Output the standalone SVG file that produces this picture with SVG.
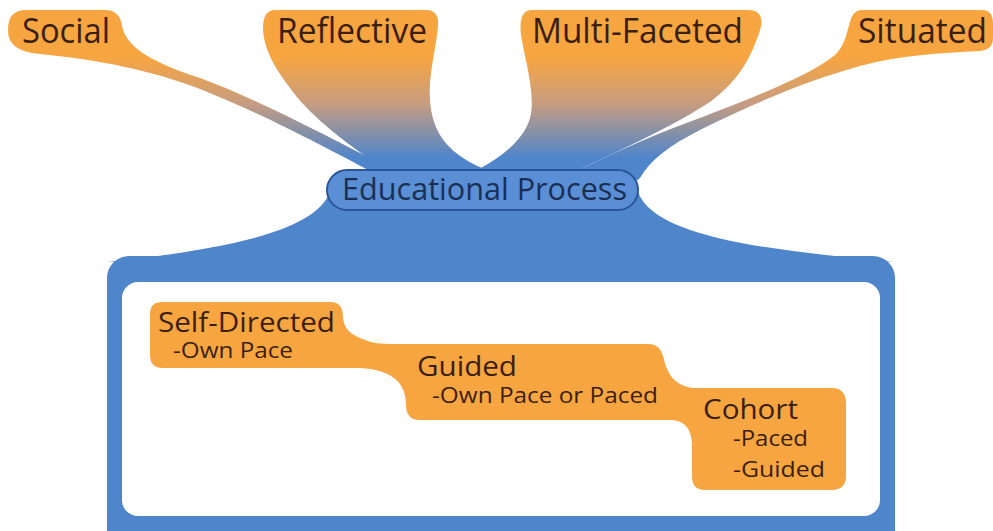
<svg xmlns="http://www.w3.org/2000/svg" width="993" height="531" viewBox="0 0 993 531">
<style>
.lbl{font-family:"Open Sans","Noto Sans","Liberation Sans",sans-serif;fill:#3a1f0c}
.top{font-size:34px}
.main{font-size:27px}
.sub{font-size:22px}
.pill{font-family:"Open Sans","Noto Sans","Liberation Sans",sans-serif;font-size:31px;fill:#1b2f55}
.blob{fill:url(#og)}
.blue{fill:#4f85ca}
.orange{fill:#f7a541}
</style>
<defs>
<linearGradient id="og" gradientUnits="userSpaceOnUse" x1="0" y1="58" x2="0" y2="158">
<stop offset="0" stop-color="#f7a541"/>
<stop offset="0.45" stop-color="#c79d80"/>
<stop offset="1" stop-color="#4f85ca"/>
</linearGradient>
</defs>
<g id="connectors">
<path class="blob" d="M 26,10 L 105,10 C 115,10 121,16 122,26 C 126,45 145,60 200,78 C 260,100 330,138 390,168 L 392,192 L 372,192 L 372,172 C 330,150 270,117 200,89 C 150,70 100,60 40,54 C 20,52 8,46 8,30 C 8,16 14,10 26,10 Z"/>
<path class="blob" d="M 275,10 L 426,10 C 435,10 439,16 438,26 C 436,50 428,75 430,100 C 432,130 445,152 482,168 L 482,195 L 375,195 L 383,168 C 340,140 305,110 290,88 C 272,65 263,45 263,28 C 263,16 267,10 275,10 Z"/>
<path class="blob" d="M 532,10 L 748,10 C 760,10 764,18 760,30 C 752,55 740,80 710,102 C 670,128 620,150 583,168 L 585,195 L 478,195 L 481,168 C 500,158 524,140 530,118 C 536,95 525,60 521,35 C 519,18 523,10 532,10 Z"/>
<path class="blob" d="M 862,10 L 982,10 C 990,10 993,15 993,24 L 993,38 C 993,47 988,50 980,51 C 940,53 900,55 860,66 C 810,80 760,100 700,130 C 670,145 650,160 640,178 L 620,195 L 585,192 L 583,168 C 620,150 660,132 700,118 C 760,95 810,75 835,55 C 845,45 846,35 850,22 C 852,14 856,10 862,10 Z"/>
<path class="blue" d="M 330,192 C 314,234 215,250 108,262 L 893,262 C 770,250 655,238 638,192 Z"/>
</g>
<g id="frame">
<rect class="blue" x="107" y="256" width="788" height="300" rx="22"/>
<rect x="122" y="282" width="758" height="234" rx="16" fill="#ffffff"/>
</g>
<g id="node-social"><text class="lbl top" x="22" y="43" textLength="88" lengthAdjust="spacingAndGlyphs">Social</text></g>
<g id="node-reflective"><text class="lbl top" x="277" y="43" textLength="150" lengthAdjust="spacingAndGlyphs">Reflective</text></g>
<g id="node-multifaceted"><text class="lbl top" x="532" y="43" textLength="211" lengthAdjust="spacingAndGlyphs">Multi-Faceted</text></g>
<g id="node-situated"><text class="lbl top" x="858" y="43" textLength="129" lengthAdjust="spacingAndGlyphs">Situated</text></g>
<g id="node-educational-process">
<rect x="327" y="170" width="311" height="40" rx="20" fill="#5a8fd6" stroke="#2a5597" stroke-width="2"/>
<text class="pill" x="342" y="200" textLength="285" lengthAdjust="spacingAndGlyphs">Educational Process</text>
</g>
<g id="node-modes">
<path class="orange" d="M 162,302 L 330,302 C 340,302 343,308 343,318 C 344,328 350,335 365,340 C 372,343 380,344 395,344 L 648,344 C 658,344 662,350 664,360 C 668,375 675,385 692,388 L 832,388 C 842,388 846,394 846,404 L 846,476 C 846,485 841,490 832,490 L 705,490 C 696,490 692,485 692,476 L 692,445 C 692,430 685,420 670,420 L 420,420 C 410,420 406,414 406,405 C 406,385 395,370 360,368 L 162,368 C 154,368 150,363 150,355 L 150,314 C 150,306 154,302 162,302 Z"/>
</g>
<g id="node-self-directed">
<text class="lbl main" x="158" y="332" textLength="177" lengthAdjust="spacingAndGlyphs">Self-Directed</text>
<text class="lbl sub" x="173" y="358" textLength="120" lengthAdjust="spacingAndGlyphs">-Own Pace</text>
</g>
<g id="node-guided">
<text class="lbl main" x="417" y="376" textLength="100" lengthAdjust="spacingAndGlyphs">Guided</text>
<text class="lbl sub" x="432" y="403" textLength="226" lengthAdjust="spacingAndGlyphs">-Own Pace or Paced</text>
</g>
<g id="node-cohort">
<text class="lbl main" x="703" y="419" textLength="95" lengthAdjust="spacingAndGlyphs">Cohort</text>
<text class="lbl sub" x="733" y="446" textLength="75" lengthAdjust="spacingAndGlyphs">-Paced</text>
<text class="lbl sub" x="733" y="477" textLength="92" lengthAdjust="spacingAndGlyphs">-Guided</text>
</g>
</svg>
